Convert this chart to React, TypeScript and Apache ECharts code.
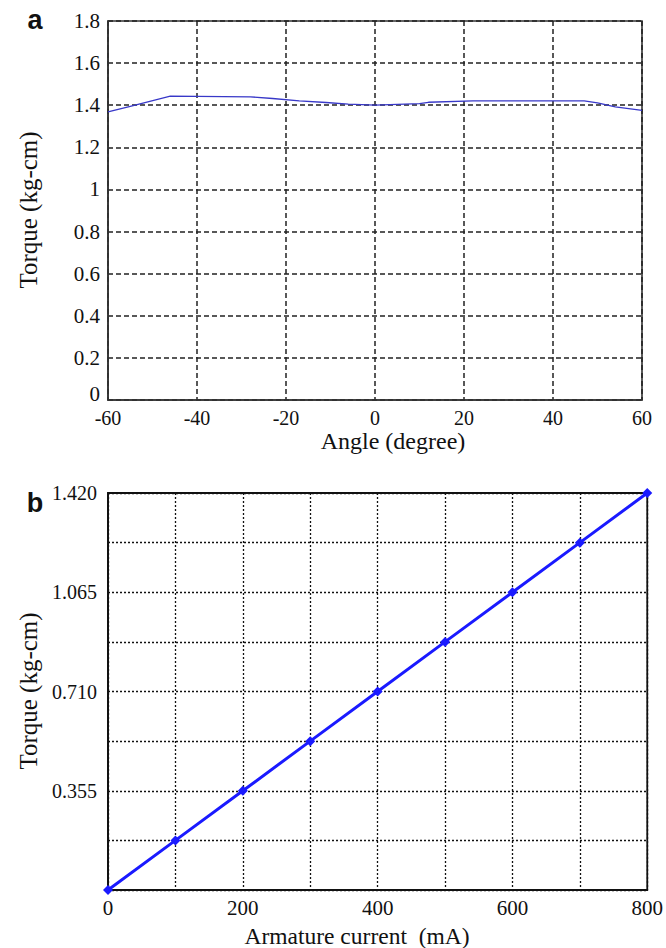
import React, { useEffect, useRef } from "react";
import * as echarts from "echarts";

// Panel a: torque vs angle
const angleDeg = [-60, -55, -46, -28, -23, -17, -11, -6, 0, 10, 12, 22, 47, 50, 54, 60];
const torqueA = [1.368, 1.395, 1.443, 1.44, 1.432, 1.421, 1.413, 1.405, 1.4, 1.408, 1.414, 1.421, 1.421, 1.411, 1.392, 1.376];

// Panel b: torque vs armature current
const currentMA = [0, 100, 200, 300, 400, 500, 600, 700, 800];
const torqueB = [0, 0.1775, 0.355, 0.5325, 0.71, 0.8875, 1.065, 1.2425, 1.42];

const axisA = { xMin: -60, xMax: 60, xStep: 20, yMin: 0, yMax: 1.8, yStep: 0.2 };
const axisB = { xMin: 0, xMax: 800, xStep: 100, yMin: 0, yMax: 1.42, yStep: 0.1775 };

const SERIF = "Liberation Serif";
const SANS = "Liberation Sans";

export default function App() {
  const ref = useRef<HTMLDivElement>(null);

  useEffect(() => {
    document.body.style.margin = "0";
    if (!ref.current) return;
    const chart = echarts.init(ref.current, undefined, { renderer: "svg" });

    const labelStyle = { color: "#111", fontFamily: SERIF, fontSize: 20 };

    chart.setOption({
      animation: false,
      backgroundColor: "#ffffff",
      textStyle: { fontFamily: SERIF },
      grid: [
        { left: 108, right: 24, top: 21, bottom: 548, show: true, borderColor: "#333", borderWidth: 1.6, backgroundColor: "transparent" },
        { left: 108, right: 18, top: 493, bottom: 58, show: true, borderColor: "#111", borderWidth: 1.8, backgroundColor: "transparent" },
      ],
      xAxis: [
        {
          gridIndex: 0,
          type: "value",
          min: axisA.xMin,
          max: axisA.xMax,
          interval: axisA.xStep,
          axisLine: { show: true, onZero: false, lineStyle: { color: "#333", width: 1.6 } },
          axisTick: { show: false },
          axisLabel: { ...labelStyle, margin: 8 },
          splitLine: { show: true, lineStyle: { color: "#222", width: 1.5, type: [5, 3] } },
        },
        {
          gridIndex: 1,
          type: "value",
          min: axisB.xMin,
          max: axisB.xMax,
          interval: axisB.xStep,
          axisLine: { show: true, onZero: false, lineStyle: { color: "#111", width: 1.8 } },
          axisTick: { show: false },
          axisLabel: {
            ...labelStyle,
            fontSize: 21,
            margin: 7,
            formatter: (v: number) => (Math.round(v) % 200 === 0 ? String(Math.round(v)) : ""),
          },
          splitLine: { show: true, lineStyle: { color: "#111", width: 1.3, type: [2, 2] } },
        },
      ],
      yAxis: [
        {
          gridIndex: 0,
          type: "value",
          min: axisA.yMin,
          max: axisA.yMax,
          interval: axisA.yStep,
          axisLine: { show: true, onZero: false, lineStyle: { color: "#333", width: 1.6 } },
          axisTick: { show: false },
          axisLabel: {
            ...labelStyle,
            fontSize: 21,
            margin: 8,
            formatter: (v: number) => (Math.abs(v) < 1e-9 ? "{z|0}" : String(Math.round(v * 10) / 10)),
            rich: { z: { fontFamily: SERIF, fontSize: 21, color: "#111", padding: [0, 0, 12, 0] } },
          },
          splitLine: { show: true, lineStyle: { color: "#222", width: 1.5, type: [5, 3] } },
        },
        {
          gridIndex: 1,
          type: "value",
          min: axisB.yMin,
          max: axisB.yMax,
          interval: axisB.yStep,
          axisLine: { show: true, onZero: false, lineStyle: { color: "#111", width: 1.8 } },
          axisTick: { show: false },
          axisLabel: {
            ...labelStyle,
            margin: 11,
            formatter: (v: number) => {
              const i = Math.round(v / axisB.yStep);
              return i > 0 && i % 2 === 0 ? (i * axisB.yStep).toFixed(3) : "";
            },
          },
          splitLine: { show: true, lineStyle: { color: "#111", width: 1.3, type: [2, 2] } },
        },
      ],
      series: [
        {
          type: "line",
          xAxisIndex: 0,
          yAxisIndex: 0,
          data: angleDeg.map((a, i) => [a, torqueA[i]]),
          showSymbol: false,
          symbol: "none",
          lineStyle: { color: "#3838c8", width: 1.3 },
          z: 5,
        },
        {
          type: "line",
          xAxisIndex: 1,
          yAxisIndex: 1,
          data: currentMA.map((c, i) => [c, torqueB[i]]),
          symbol: "diamond",
          symbolSize: 10,
          itemStyle: { color: "#1a1aff" },
          lineStyle: { color: "#1a1aff", width: 3 },
          z: 5,
        },
      ],
      graphic: [
        { type: "text", x: 35, y: 20, style: { text: "a", font: `bold 27px ${SANS}`, fill: "#111", align: "center", verticalAlign: "middle" } },
        { type: "text", x: 35, y: 503, style: { text: "b", font: `bold 27px ${SANS}`, fill: "#111", align: "center", verticalAlign: "middle" } },
        { type: "text", x: 393, y: 441, style: { text: "Angle (degree)", font: `24px ${SERIF}`, fill: "#111", align: "center", verticalAlign: "middle" } },
        { type: "text", x: 357, y: 936, style: { text: "Armature current  (mA)", font: `23.5px ${SERIF}`, fill: "#111", align: "center", verticalAlign: "middle" } },
        { type: "text", x: 28, y: 210, rotation: Math.PI / 2, style: { text: "Torque (kg-cm)", font: `25px ${SERIF}`, fill: "#111", align: "center", verticalAlign: "middle" } },
        { type: "text", x: 28, y: 691, rotation: Math.PI / 2, style: { text: "Torque (kg-cm)", font: `25px ${SERIF}`, fill: "#111", align: "center", verticalAlign: "middle" } },
      ],
    });

    return () => chart.dispose();
  }, []);

  return <div ref={ref} style={{ position: "absolute", left: 0, top: 0, width: 666, height: 948 }} />;
}
